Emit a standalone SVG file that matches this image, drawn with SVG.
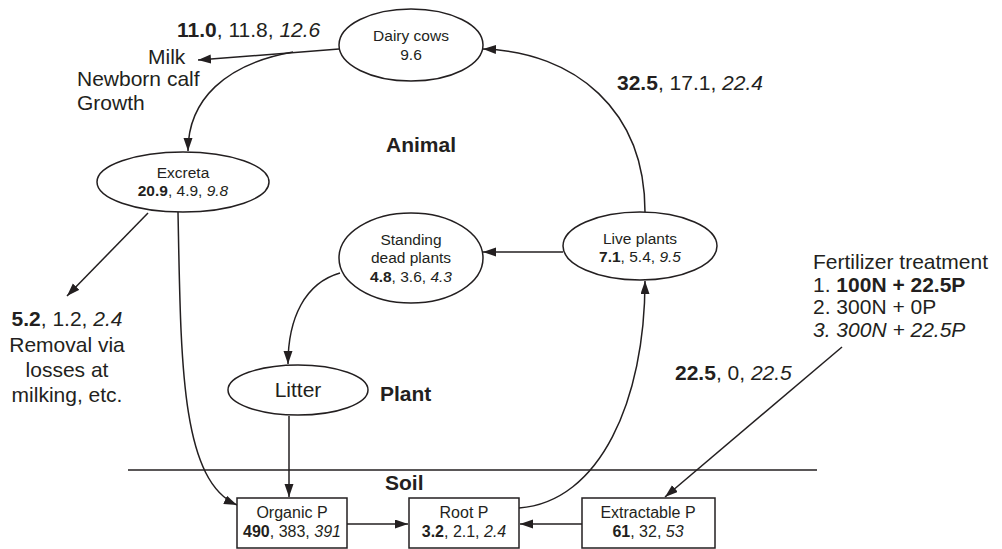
<svg xmlns="http://www.w3.org/2000/svg" width="1002" height="549" viewBox="0 0 1002 549">
<style>
text{font-family:"Liberation Sans",Arial,sans-serif;fill:#231f20}
.n{font-size:15.5px;text-anchor:middle}
.b{font-size:16px;text-anchor:middle}
.l{font-size:21px}
.c{text-anchor:middle}
.bold{font-weight:bold}
.it{font-style:italic}
.shape{fill:#fff;stroke:#231f20;stroke-width:1.5}
.edge{fill:none;stroke:#231f20;stroke-width:1.5;marker-end:url(#ah)}
</style>
<defs>
<marker id="ah" markerUnits="userSpaceOnUse" markerWidth="14" markerHeight="10" refX="13" refY="4.5" orient="auto">
<path d="M0,0 L13,4.5 L0,9 Z" fill="#231f20"/>
</marker>
</defs>
<rect width="1002" height="549" fill="#fff"/>
<line x1="128" y1="470" x2="817" y2="470" stroke="#231f20" stroke-width="1.5"/>
<g id="connectors">
<path class="edge" d="M339 49 L198 60"/>
<path class="edge" d="M293 52 C225 64 188 100 188 151"/>
<path class="edge" d="M645 212 C645 110 575 52 483 49"/>
<path class="edge" d="M563 252 L483 252"/>
<path class="edge" d="M340 273 C305 283 288 318 288 364"/>
<path class="edge" d="M148 213 L67 296"/>
<path class="edge" d="M178 212 C181 360 180 480 237 505"/>
<path class="edge" d="M289 416 L289 497"/>
<path class="edge" d="M347 524 L408 524"/>
<path class="edge" d="M582 524 L520 524"/>
<path class="edge" d="M519 508 C600 502 645 400 645 281"/>
<path class="edge" d="M842 347 L665 497"/>
</g>
<g id="dairy">
<ellipse class="shape" cx="411" cy="45" rx="72" ry="36"/>
<text class="n" x="411" y="41">Dairy cows</text>
<text class="n" x="411" y="60">9.6</text>
</g>
<g id="excreta">
<ellipse class="shape" cx="183" cy="182" rx="86" ry="30"/>
<text class="n" x="183" y="178">Excreta</text>
<text class="n" x="183" y="196"><tspan class="bold">20.9</tspan>, 4.9, <tspan class="it">9.8</tspan></text>
</g>
<g id="standing">
<ellipse class="shape" cx="411" cy="258" rx="72" ry="45"/>
<text class="n" x="411" y="245">Standing</text>
<text class="n" x="411" y="263">dead plants</text>
<text class="n" x="411" y="282"><tspan class="bold">4.8</tspan>, 3.6, <tspan class="it">4.3</tspan></text>
</g>
<g id="live">
<ellipse class="shape" cx="640" cy="246" rx="77" ry="34"/>
<text class="n" x="640" y="244">Live plants</text>
<text class="n" x="640" y="262"><tspan class="bold">7.1</tspan>, 5.4, <tspan class="it">9.5</tspan></text>
</g>
<g id="litter">
<ellipse class="shape" cx="298" cy="390" rx="70" ry="25"/>
<text class="l c" x="298" y="397">Litter</text>
</g>
<g id="organic">
<rect class="shape" x="237" y="498" width="110" height="50"/>
<text class="b" x="292" y="518">Organic P</text>
<text class="b" x="292" y="537"><tspan class="bold">490</tspan>, 383, <tspan class="it">391</tspan></text>
</g>
<g id="root">
<rect class="shape" x="409" y="498" width="110" height="50"/>
<text class="b" x="464" y="518">Root P</text>
<text class="b" x="464" y="537"><tspan class="bold">3.2</tspan>, 2.1, <tspan class="it">2.4</tspan></text>
</g>
<g id="extractable">
<rect class="shape" x="582" y="498" width="133" height="50"/>
<text class="b" x="648" y="518">Extractable P</text>
<text class="b" x="648" y="537"><tspan class="bold">61</tspan>, 32, <tspan class="it">53</tspan></text>
</g>
<g id="labels">
<text class="l" x="177" y="37"><tspan class="bold">11.0</tspan>, 11.8, <tspan class="it">12.6</tspan></text>
<text class="l" x="148" y="64">Milk</text>
<text class="l" x="77" y="86">Newborn calf</text>
<text class="l" x="77" y="110">Growth</text>
<text class="l bold" x="386" y="152">Animal</text>
<text class="l" x="617" y="90"><tspan class="bold">32.5</tspan>, 17.1, <tspan class="it">22.4</tspan></text>
<text class="l c" x="67" y="326"><tspan class="bold">5.2</tspan>, 1.2, <tspan class="it">2.4</tspan></text>
<text class="l c" x="67" y="352">Removal via</text>
<text class="l c" x="67" y="377">losses at</text>
<text class="l c" x="67" y="402">milking, etc.</text>
<text class="l bold" x="380" y="401">Plant</text>
<text class="l bold" x="385" y="490">Soil</text>
<text class="l" x="813" y="269">Fertilizer treatment</text>
<text class="l" x="813" y="292">1. <tspan class="bold">100N + 22.5P</tspan></text>
<text class="l" x="813" y="314">2. 300N + 0P</text>
<text class="l it" x="813" y="337">3. 300N + 22.5P</text>
<text class="l" x="675" y="380"><tspan class="bold">22.5</tspan>, 0, <tspan class="it">22.5</tspan></text>
</g>
</svg>
